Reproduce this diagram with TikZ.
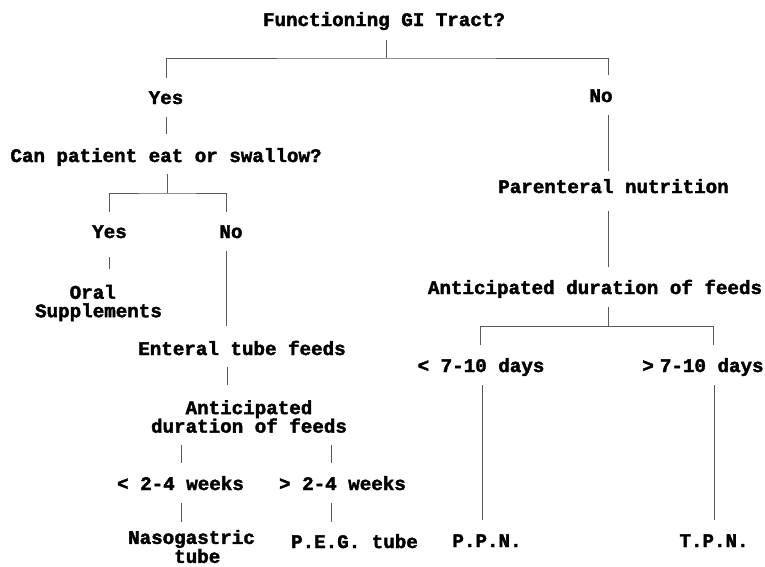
\documentclass[tikz,border=0pt]{standalone}
\usepackage{fontspec}
\setmonofont{Liberation Mono}[BoldFeatures={FakeBold=2}]
\usetikzlibrary{calc}
\tikzset{
  lbl/.style={font=\ttfamily\bfseries\fontsize{19.2}{18.5}\selectfont, inner sep=0pt, text height=12pt, text depth=0pt},
  lblm/.style={font=\ttfamily\bfseries\fontsize{19.2}{18.5}\selectfont, inner sep=0pt},
  conn/.style={draw=black!65, line width=0.8pt}
}
\begin{document}
\begin{tikzpicture}[x=1pt,y=-1pt]
\useasboundingbox (0,0) rectangle (765,566);
\fill[white] (0,0) rectangle (765,566);

% nodes
\node[lbl] (title) at (384,20) {Functioning GI Tract?};
\node[lbl] (yes1) at (166,98) {Yes};
\node[lbl] (no1) at (601,96) {No};
\node[lbl] (can) at (166,156) {Can patient eat or swallow?};
\node[lbl] (yes2) at (109.5,232) {Yes};
\node[lbl] (no2) at (231,232) {No};
\node[lblm, align=left] (oral) at (98.5,303) {\hphantom{Sup}Oral\\Supplements};
\node[lbl] (enteral) at (242,349) {Enteral tube feeds};
\node[lblm, align=center] (ant2) at (249,416.5) {Anticipated\\duration of feeds};
\node[lbl] (lt2) at (180.5,484) {< 2-4 weeks};
\node[lbl] (gt2) at (342.5,484) {> 2-4 weeks};
\node[lblm, align=left, font=\ttfamily\bfseries\fontsize{19.2}{17}\selectfont] (naso) at (191.5,546.5) {Nasogastric\\\hphantom{Naso}tube};
\node[lbl] (peg) at (354.5,542) {P.E.G. tube};
\node[lbl] (par) at (613.5,187) {Parenteral nutrition};
\node[lbl] (antR) at (595,288) {Anticipated duration of feeds};
\node[lbl] (lt7) at (481,366) {< 7-10 days};
\node[lbl] (gt7) at (703,366) {>\hspace{6pt}7-10 days};
\node[lbl] (ppn) at (487,541) {P.P.N.};
\node[lbl] (tpn) at (714,541) {T.P.N.};

% junctions
\coordinate (j0) at (386,58);
\coordinate (j1) at (167,193);
\coordinate (j2) at (608,326);

% connectors
\draw[conn] ($(title.center)+(2,20)$) -- (j0);
\draw[conn] ($(yes1.center)+(0,-20)$) |- (j0) -| ($(no1.center)+(7,-21)$);
\draw[conn] ($(yes1.center)+(0,19)$) -- ($(yes1.center |- can.center)+(0,-22)$);
\draw[conn] ($(can.center)+(1,18)$) -- (j1);
\draw[conn] ($(yes2.center)+(0,-20)$) |- (j1) -| ($(no2.center)+(-5,-20)$);
\draw[conn] ($(yes2.center)+(0,25)$) -- ($(yes2.center |- oral.center)+(0,-34)$);
\draw[conn] ($(no2.center)+(-5,19)$) -- ($(no2.center |- enteral.center)+(-5,-23)$);
\draw[conn] ($(enteral.center)+(-15,18)$) -- ($(enteral.center |- ant2.center)+(-15,-31.5)$);
\draw[conn] ($(ant2.center)+(-68,28.5)$) -- ($(ant2.center |- lt2.center)+(-68,-21)$);
\draw[conn] ($(ant2.center)+(82,28.5)$) -- ($(ant2.center |- gt2.center)+(82,-21)$);
\draw[conn] ($(lt2.center)+(0.5,19)$) -- ($(lt2.center |- naso.center)+(0.5,-24.5)$);
\draw[conn] ($(gt2.center)+(-11.5,19)$) -- ($(gt2.center |- peg.center)+(-11.5,-20)$);
\draw[conn] ($(no1.center)+(7,19)$) -- ($(no1.center |- par.center)+(7,-16)$);
\draw[conn] ($(par.center)+(-5.5,24)$) -- ($(par.center |- antR.center)+(-5.5,-21)$);
\draw[conn] ($(antR.center)+(13,19)$) -- (j2);
\draw[conn] ($(lt7.center)+(-1,-21)$) |- (j2) -| ($(gt7.center)+(10.5,-21)$);
\draw[conn] ($(lt7.center)+(1,19)$) -- ($(lt7.center |- ppn.center)+(1,-21)$);
\draw[conn] ($(gt7.center)+(11,19)$) -- ($(gt7.center |- tpn.center)+(11,-21)$);
\end{tikzpicture}
\end{document}
